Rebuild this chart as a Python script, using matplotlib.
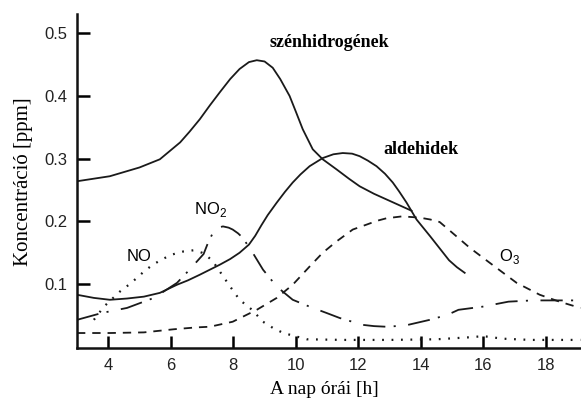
import matplotlib
matplotlib.use("Agg")
import matplotlib.pyplot as plt

plt.rcParams["lines.scale_dashes"] = False
plt.rcParams["mathtext.fontset"] = "custom"
plt.rcParams["mathtext.rm"] = "Liberation Sans"

# hydrocarbons (solid)
hc_x = [3.0, 4.05, 5.0, 5.65, 6.3, 6.6, 6.93, 7.25, 7.57, 7.9, 8.2, 8.5, 8.75,
        9.0, 9.26, 9.5, 9.8, 10.0, 10.22, 10.54, 10.86, 11.3, 11.7, 12.04,
        12.5, 12.9, 13.3, 13.7]
hc_y = [0.264, 0.272, 0.286, 0.299, 0.326, 0.343, 0.363, 0.385, 0.406, 0.427,
        0.443, 0.454, 0.457, 0.455, 0.445, 0.427, 0.400, 0.375, 0.347, 0.315,
        0.299, 0.283, 0.268, 0.256, 0.244, 0.235, 0.226, 0.217]

# aldehydes (solid)
al_x = [3.0, 3.54, 4.05, 4.6, 5.14, 5.65, 6.2, 6.55, 6.93, 7.25, 7.57, 7.9,
        8.2, 8.5, 8.7, 8.9, 9.1, 9.39, 9.65, 9.9, 10.15, 10.44, 10.86, 11.2,
        11.5, 11.8, 12.04, 12.3, 12.58, 12.85, 13.1, 13.3, 13.54, 13.86, 14.3,
        14.6, 14.9, 15.15, 15.4]
al_y = [0.083, 0.078, 0.075, 0.077, 0.080, 0.086, 0.099, 0.106, 0.115, 0.123,
        0.131, 0.140, 0.150, 0.163, 0.177, 0.194, 0.210, 0.230, 0.247, 0.262,
        0.275, 0.288, 0.301, 0.307, 0.309, 0.308, 0.304, 0.297, 0.288, 0.276,
        0.262, 0.248, 0.230, 0.203, 0.176, 0.157, 0.138, 0.127, 0.118]

# NO (dotted)
no_x = [3.54, 3.86, 4.37, 4.66, 4.92, 5.14, 5.4, 5.7, 6.03, 6.4, 6.74, 7.0,
        7.2, 7.35, 7.57, 7.9, 8.2, 8.6, 8.95, 9.27, 9.6, 10.35, 11.5, 13.0,
        14.5, 15.5, 16.0, 16.6, 17.5, 19.1]
no_y = [0.043, 0.064, 0.088, 0.099, 0.110, 0.120, 0.130, 0.139, 0.147, 0.152,
        0.154, 0.150, 0.143, 0.136, 0.120, 0.096, 0.075, 0.059, 0.040, 0.030,
        0.022, 0.012, 0.011, 0.011, 0.012, 0.015, 0.017, 0.013, 0.011, 0.011]

# NO2 (dash-dot)
no2_x = [3.0, 3.8, 4.6, 5.46, 6.2, 6.6, 7.05, 7.2, 7.35, 7.5, 7.67, 7.85,
         7.98, 8.15, 8.3, 8.62, 8.95, 9.39, 9.9, 10.44, 10.98, 11.4, 12.14,
         12.5, 12.9, 13.5, 14.28, 14.85, 15.2, 15.97, 16.8, 17.57, 18.75, 19.1]
no2_y = [0.043, 0.054, 0.062, 0.078, 0.102, 0.123, 0.148, 0.167, 0.182, 0.190,
         0.192, 0.190, 0.187, 0.181, 0.174, 0.150, 0.123, 0.096, 0.075, 0.064,
         0.054, 0.046, 0.035, 0.033, 0.032, 0.034, 0.043, 0.051, 0.059, 0.064,
         0.072, 0.074, 0.074, 0.074]

# O3 (dashed)
o3_x = [3.0, 4.05, 5.14, 6.1, 6.83, 7.25, 7.98, 8.75, 9.39, 9.9, 10.44, 10.86,
        11.3, 11.82, 12.27, 12.6, 12.9, 13.4, 13.96, 14.3, 14.6, 15.0, 15.56,
        16.2, 17.06, 17.8, 18.43, 19.1]
o3_y = [0.022, 0.022, 0.023, 0.028, 0.031, 0.032, 0.040, 0.059, 0.078, 0.099,
        0.128, 0.150, 0.168, 0.187, 0.195, 0.201, 0.205, 0.208, 0.206, 0.203,
        0.199, 0.182, 0.158, 0.134, 0.102, 0.083, 0.072, 0.062]

x_ticks = [4, 6, 8, 10, 12, 14, 16, 18]
y_ticks = [0.1, 0.2, 0.3, 0.4, 0.5]

fig = plt.figure(figsize=(5.81, 4.01), dpi=100)
ax = fig.add_axes([0.1325, 0.132, 0.8675, 0.832])

lw = 1.3
ax.plot(hc_x, hc_y, color="#1a1a1a", lw=lw)
ax.plot(al_x, al_y, color="#1a1a1a", lw=lw)
ax.plot(no_x, no_y, color="#1a1a1a", lw=1.6, dashes=(1.3, 5.5))
ax.plot(no2_x, no2_y, color="#1a1a1a", lw=lw, dashes=(16, 6, 1.5, 9))
ax.plot(o3_x, o3_y, color="#1a1a1a", lw=lw, dashes=(6, 5))

serif = "Liberation Serif"
ax.text(11.08, 0.486, "szénhidrogének", family=serif, fontsize=13,
        fontweight="bold", ha="center", va="center")
ax.text(13.99, 0.314, "aldehidek", family=serif, fontsize=13,
        fontweight="bold", ha="center", va="center")
ax.text(4.98, 0.144, "NO", family="Liberation Sans", fontsize=12,
        ha="center", va="center")
ax.text(7.28, 0.219, r"NO$_2$", family="Liberation Sans", fontsize=12,
        ha="center", va="center")
ax.text(16.83, 0.144, r"O$_3$", family="Liberation Sans", fontsize=12,
        ha="center", va="center")

ax.set_xlim(3, 19.12)
ax.set_ylim(-0.002, 0.53)
ax.set_xticks(x_ticks)
ax.set_yticks(y_ticks)
ax.set_xticklabels([str(t) for t in x_ticks])
ax.set_yticklabels([str(t) for t in y_ticks])
ax.tick_params(direction="in", length=9, width=1.8, labelsize=12,
               labelcolor="#222222", pad=7)
for lab in ax.get_xticklabels() + ax.get_yticklabels():
    lab.set_family("Liberation Sans")

for side in ["top", "right"]:
    ax.spines[side].set_visible(False)
for side in ["left", "bottom"]:
    ax.spines[side].set_linewidth(1.8)
    ax.spines[side].set_color("#111111")

ax.set_xlabel("A nap órái [h]", family=serif, fontsize=14)
ax.xaxis.set_label_coords(0.49, -0.1)
ax.set_ylabel("Koncentráció [ppm]", family=serif, fontsize=15, labelpad=8)

fig.savefig("out.png", dpi=100)
